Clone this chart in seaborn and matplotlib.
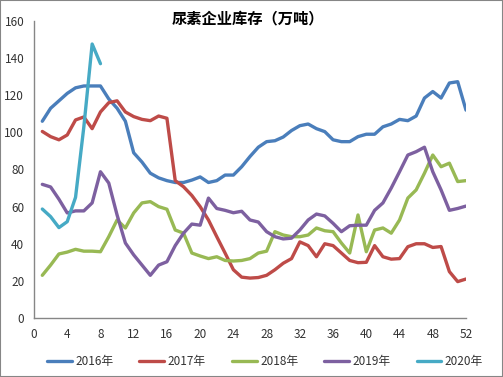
import pandas as pd
import seaborn as sns
import matplotlib.pyplot as plt
from matplotlib.patches import Rectangle

sns.set_style("white")
plt.rcParams['font.family'] = ['Noto Sans CJK SC', 'DejaVu Sans']

# weekly inventory, 10k tons
weeks = list(range(1, 53))
y2016 = [106, 113, 117, 121, 124, 125, 125, 125, 118, 113, 106, 89, 84, 78, 75.5, 74, 73, 73,
         74.3, 76, 73, 74, 77, 77, 81.5, 87, 92, 95, 95.5, 97.5, 101, 103.6, 104.5, 102, 100.4,
         96, 95, 95, 97.7, 99, 99, 103, 104.5, 107, 106.3, 108.8, 118.5, 122, 118.5, 126.6, 127.3, 112]
y2017 = [100.5, 97.7, 96, 98.6, 106.7, 108.3, 102, 111, 116, 117, 111, 108.5, 107, 106.3, 108.8,
         107.6, 74, 70.7, 66, 60, 52.8, 43.8, 35, 26, 22, 21.5, 21.8, 23, 26, 29.5, 32, 41, 39,
         33, 40, 39, 35, 31, 29.8, 30, 39, 33, 31.7, 32, 38.4, 40, 40, 38, 38.5, 25, 19.6, 21]
y2018 = [23, 28.5, 34.5, 35.5, 37, 36, 36, 35.7, 43.8, 52.8, 48.5, 56.6, 62, 62.7, 60, 58.6,
         47.4, 45.7, 35, 33.4, 32, 33, 31, 30.7, 31, 32, 35, 36, 46.5, 44.7, 43.8, 43.8, 44.7,
         48.5, 47, 46.5, 40.4, 35, 55.5, 35.7, 47.4, 48.5, 45.7, 52.8, 64.6, 69, 78, 87.8, 81.5,
         83.4, 73.5, 74]
y2019 = [72, 70.6, 64, 56.6, 57.7, 57.7, 62, 78.8, 72.7, 55.5, 40.4, 34, 28.5, 23, 28.5, 30.3,
         39, 45.7, 50.6, 50, 64.6, 59, 58, 56.7, 57.5, 52.8, 51.7, 46.5, 43.8, 42.6, 43, 47.4,
         52.8, 56, 55, 51, 46.5, 49.7, 50, 50, 58, 62, 70, 78.8, 87.8, 89.6, 92, 78.8, 69, 58,
         59, 60.3]
y2020 = [58.7, 54.6, 48.7, 51.9, 65, 103, 147.6, 137]

series = {"2016年": y2016, "2017年": y2017, "2018年": y2018, "2019年": y2019, "2020年": y2020}
colors = ["#4A7EBB", "#BE4B48", "#98B954", "#7D60A0", "#46AAC5"]

rows = []
for name, vals in series.items():
    for w, v in zip(weeks, vals):
        rows.append({"week": w, "value": v, "year": name})
df = pd.DataFrame(rows)

fig = plt.figure(figsize=(5.03, 3.77), dpi=100)
ax = fig.add_axes([34 / 503, 59 / 377, 432 / 503, 297 / 377])

sns.lineplot(data=df, x="week", y="value", hue="year", palette=colors,
             linewidth=2.4, ax=ax, legend=False, solid_joinstyle="round",
             solid_capstyle="round")

ax.set_xlim(0, 52)
ax.set_ylim(0, 160)
ax.set_xticks(range(0, 53, 4))
ax.set_yticks(range(0, 161, 20))
ax.set_xlabel("")
ax.set_ylabel("")
for s in ["top", "right"]:
    ax.spines[s].set_visible(False)
for s in ["left", "bottom"]:
    ax.spines[s].set_color("#868686")
    ax.spines[s].set_linewidth(1.0)
ax.tick_params(axis="both", direction="out", length=4, width=1, color="#868686",
               labelsize=8.5, labelcolor="#333333", pad=3)

fig.text(0.493, 1 - 18 / 377, "尿素企业库存（万吨）", fontsize=11, fontweight="bold",
         ha="center", va="center", color="#000000")

handles = [plt.Line2D([], [], color=c, lw=2.4) for c in colors]
leg = fig.legend(handles, list(series.keys()), loc="center", bbox_to_anchor=(0.527, 0.04),
                 ncol=5, frameon=False, fontsize=8.5, handlelength=2.1, columnspacing=2.2,
                 handletextpad=0.3)
for t in leg.get_texts():
    t.set_color("#333333")

fig.patches.append(Rectangle((0, 0), 1, 1, transform=fig.transFigure, fill=False,
                             edgecolor="#868686", linewidth=1.5))

fig.savefig("out.png", dpi=100)
